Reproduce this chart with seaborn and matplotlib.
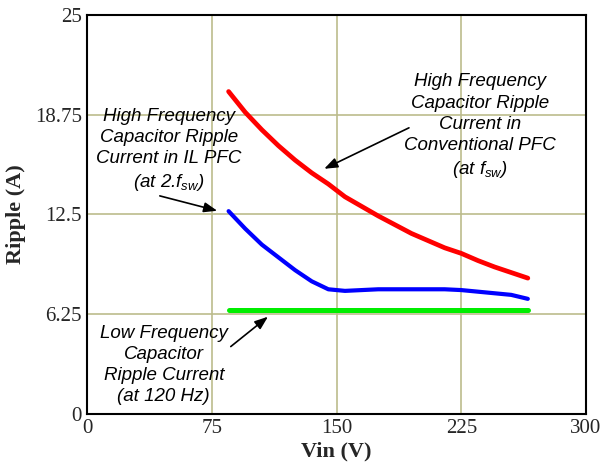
import numpy as np
import pandas as pd
import matplotlib
matplotlib.use("Agg")
import matplotlib.pyplot as plt
import seaborn as sns

vin = [85, 95, 105, 115, 125, 135, 145, 155, 165, 175, 185, 195, 205, 215, 225, 235, 245, 255, 265]
hf_conventional = [20.2, 18.9, 17.8, 16.8, 15.9, 15.1, 14.4, 13.6, 13.0, 12.4, 11.85, 11.3, 10.85,
                   10.4, 10.05, 9.6, 9.2, 8.85, 8.5]
hf_interleaved = [12.7, 11.6, 10.6, 9.8, 9.0, 8.3, 7.8, 7.7, 7.75, 7.8, 7.8, 7.8, 7.8, 7.8, 7.75,
                  7.65, 7.55, 7.45, 7.2]
lf_ripple = [6.5] * len(vin)

x_ticks = [0, 75, 150, 225, 300]
y_ticks = [0, 6.25, 12.5, 18.75, 25]
y_tick_labels = ["0", "6.25", "12.5", "18.75", "25"]

sns.set_style("white")
plt.rcParams["mathtext.fontset"] = "custom"
plt.rcParams["mathtext.it"] = "Liberation Sans:italic"
plt.rcParams["mathtext.rm"] = "Liberation Sans:italic"

df = pd.DataFrame({"vin": vin, "conv": hf_conventional, "il": hf_interleaved, "lf": lf_ripple})

fig = plt.figure(figsize=(6.05, 4.71), dpi=100)
ax = fig.add_axes([0.1443, 0.1217, 0.9686 - 0.1443, 0.9682 - 0.1217])

grid_color = "#bcbc8c"
for gx in [75, 150, 225]:
    ax.axvline(gx, color=grid_color, lw=1.2, zorder=0)
for gy in [6.25, 12.5, 18.75]:
    ax.axhline(gy, color=grid_color, lw=1.2, zorder=0)

sns.lineplot(data=df, x="vin", y="conv", color="#ff0000", lw=3.4, ax=ax)
sns.lineplot(data=df, x="vin", y="il", color="#0000ff", lw=3.0, ax=ax)
sns.lineplot(data=df, x="vin", y="lf", color="#00ee00", lw=3.6, ax=ax)

ax.set_xlim(0, 300)
ax.set_ylim(0, 25)
ax.set_xticks(x_ticks)
ax.set_yticks(y_ticks)
ax.set_xticklabels([str(t) for t in x_ticks], fontfamily="Liberation Serif", fontsize=15)
ax.set_yticklabels(y_tick_labels, fontfamily="Liberation Serif", fontsize=15)
ax.tick_params(axis="both", length=0, pad=4)
ax.set_xlabel("Vin (V)", fontfamily="Liberation Serif", fontsize=16, fontweight="bold", labelpad=2)
ax.set_ylabel("Ripple (A)", fontfamily="Liberation Serif", fontsize=16, fontweight="bold", labelpad=6)
for s in ax.spines.values():
    s.set_color("black")
    s.set_linewidth(1.5)

tprops = dict(fontfamily="Liberation Sans", fontstyle="italic", fontsize=13.5,
              ha="center", va="center", linespacing=1.32, color="black")
ax.text(49, 16.5, "High Frequency\nCapacitor Ripple\nCurrent in IL PFC\n(at 2.$f_{\\mathrm{sw}}$)", **tprops)
ax.text(236, 18.0, "High Frequency\nCapacitor Ripple\nCurrent in\nConventional PFC\n(at $f_{\\mathrm{sw}}$)", **tprops)
ax.text(46, 3.05, "Low Frequency\nCapacitor\nRipple Current\n(at 120 Hz)", **tprops)

aprops = dict(arrowstyle="-|>,head_length=0.8,head_width=0.3", color="black", lw=1.2)
ax.annotate("", xy=(79.8, 12.68), xytext=(42, 13.7), arrowprops=aprops)
ax.annotate("", xy=(141, 15.28), xytext=(195, 18.0), arrowprops=aprops)
ax.annotate("", xy=(110, 6.19), xytext=(85, 4.1), arrowprops=aprops)

fig.savefig("out.png", dpi=100)
